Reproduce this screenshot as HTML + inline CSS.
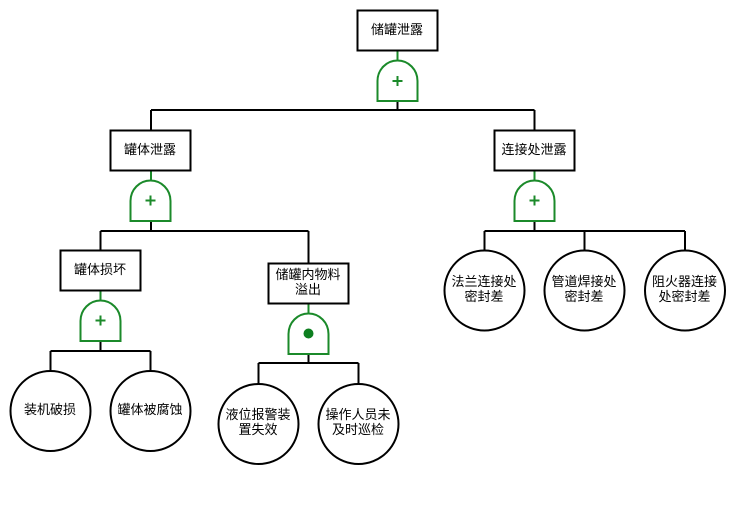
<!DOCTYPE html>
<html><head><meta charset="utf-8"><style>
html,body{margin:0;padding:0;background:#fff;width:734px;height:523px;overflow:hidden}
svg{display:block}
text{font-family:"WenQuanYi Zen Hei","Noto Sans CJK SC",sans-serif;font-size:13px;fill:#000;text-anchor:middle}
.b{fill:#fff;stroke:#000;stroke-width:2}
.l{fill:none;stroke:#000;stroke-width:2}
.g{fill:none;stroke:#1b8a2a;stroke-width:2}
.gs{fill:none;stroke:#1b8a2a;stroke-width:2}
</style></head><body>
<svg width="734" height="523" viewBox="0 0 734 523" xmlns="http://www.w3.org/2000/svg">
<path class="l" d="M397.500 101V110M151 110H534.500M151 110V130M534.500 110V130"/>
<path class="l" d="M151 221V231M100.500 231H308.500M100.500 231V250M308.500 231V263"/>
<path class="l" d="M534.500 221V231M484.500 231H685M484.500 231V250M584.500 231V250M685 231V250"/>
<path class="l" d="M100.500 341V351M50.500 351H150.500M50.500 351V371M150.500 351V371"/>
<path class="l" d="M308.500 354V363M258.500 363H358.500M258.500 363V384M358.500 363V384"/>
<path class="g" d="M397.500 50V60M151 170V180M534.500 170V180M100.500 290V300M308.500 303V313"/>
<path class="g" d="M377.500 101V81A20 20.500 0 0 1 417.500 81V101Z"/>
<path class="g" d="M130.500 221V201A20 20.500 0 0 1 170.500 201V221Z"/>
<path class="g" d="M514.500 221V201A20 20.500 0 0 1 554.500 201V221Z"/>
<path class="g" d="M80.500 341V321A20 20.500 0 0 1 120.500 321V341Z"/>
<path class="g" d="M288.500 354V334A20 20.500 0 0 1 328.500 334V354Z"/>
<path class="gs" d="M392.500 81H402.500M397.500 76V86M145.500 200.500H155.500M150.500 195.500V205.500M529.500 200.500H539.500M534.500 195.500V205.500M95.500 320.500H105.500M100.500 315.500V325.500"/>
<circle cx="308.500" cy="333.500" r="5" fill="#0d7f1f"/>
<rect class="b" x="357.500" y="10.500" width="80" height="40"/>
<rect class="b" x="110.500" y="130.500" width="80" height="40"/>
<rect class="b" x="494.500" y="130.500" width="80" height="40"/>
<rect class="b" x="60.500" y="250.500" width="80" height="40"/>
<rect class="b" x="268.500" y="263.500" width="80" height="40"/>
<circle class="b" cx="50.500" cy="411" r="40"/>
<circle class="b" cx="150.500" cy="411" r="40"/>
<circle class="b" cx="258.500" cy="424" r="40"/>
<circle class="b" cx="358.500" cy="424" r="40"/>
<circle class="b" cx="484.500" cy="290.500" r="40"/>
<circle class="b" cx="584.500" cy="290.500" r="40"/>
<circle class="b" cx="685" cy="290.500" r="40"/>
<g transform="translate(-0.5,0)">
<text x="397.500" y="34">储罐泄露</text>
<text x="150.500" y="154">罐体泄露</text>
<text x="534.500" y="154">连接处泄露</text>
<text x="100.500" y="274">罐体损坏</text>
<text x="308.500" y="279">储罐内物料</text>
<text x="308.500" y="294">溢出</text>
<text x="50.500" y="414">装机破损</text>
<text x="150.500" y="414">罐体被腐蚀</text>
<text x="258.500" y="419">液位报警装</text>
<text x="258.500" y="434">置失效</text>
<text x="358.500" y="419">操作人员未</text>
<text x="358.500" y="434">及时巡检</text>
<text x="484.500" y="286">法兰连接处</text>
<text x="484.500" y="301">密封差</text>
<text x="584.500" y="286">管道焊接处</text>
<text x="584.500" y="301">密封差</text>
<text x="685" y="286">阻火器连接</text>
<text x="685" y="301">处密封差</text>
</g>
</svg>
</body></html>
